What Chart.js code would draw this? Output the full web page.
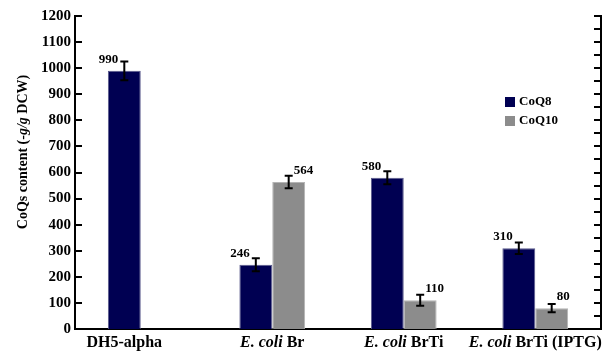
<!DOCTYPE html>
<html>
<head>
<meta charset="utf-8">
<script src="https://cdn.jsdelivr.net/npm/chart.js@4/dist/chart.umd.min.js"></script>
<style>
  html, body { margin: 0; padding: 0; background: #fff; }
  #wrap { width: 608px; height: 354px; }
</style>
</head>
<body>
<div id="wrap"><canvas id="c" width="608" height="354"></canvas></div>
<script>
// Strains and measured CoQ content (µg/g DCW)
const categories = ['DH5-alpha', 'E. coli Br', 'E. coli BrTi', 'E. coli BrTi (IPTG)'];
const seriesNames = ['CoQ8', 'CoQ10'];
const coq8 = [990, 246, 580, 310];
const coq10 = [null, 564, 110, 80];
const coq8Err = [36, 25, 25, 22];
const coq10Err = [null, 24, 21, 16];
const yAxisMin = 0;
const yAxisMax = 1200;
const yTickStep = 50;
const yLabelStep = 100;

const SERIF = '"Liberation Serif", "Times New Roman", serif';
const NAVY = '#000052';
const GREY = '#8c8c8c';
const ITALIC_PREFIX = 'E. coli';

function drawSegments(ctx, segments, x, y, align) {
  // segments: [text, font] pairs drawn one after another
  let total = 0;
  segments.forEach(([t, f]) => { ctx.font = f; total += ctx.measureText(t).width; });
  let cx = align === 'center' ? x - total / 2 : x;
  ctx.textAlign = 'left';
  segments.forEach(([t, f]) => {
    ctx.font = f;
    ctx.fillText(t, cx, y);
    cx += ctx.measureText(t).width;
  });
}

const decorations = {
  id: 'decorations',
  afterDatasetsDraw(chart) {
    const ctx = chart.ctx;
    const yScale = chart.scales.y;
    const errs = [coq8Err, coq10Err];
    ctx.save();
    chart.data.datasets.forEach((ds, di) => {
      const meta = chart.getDatasetMeta(di);
      meta.data.forEach((bar, i) => {
        const v = ds.data[i];
        if (v === null || v === undefined) return;
        const e = errs[di][i];
        const yHi = yScale.getPixelForValue(v + e);
        const yLo = yScale.getPixelForValue(v - e);
        // error bar
        ctx.strokeStyle = '#000';
        ctx.lineWidth = 2;
        ctx.beginPath();
        ctx.moveTo(bar.x, yHi); ctx.lineTo(bar.x, yLo);
        ctx.moveTo(bar.x - 4, yHi); ctx.lineTo(bar.x + 4, yHi);
        ctx.moveTo(bar.x - 4, yLo); ctx.lineTo(bar.x + 4, yLo);
        ctx.stroke();
        // value label
        ctx.fillStyle = '#000';
        ctx.font = 'bold 13px ' + SERIF;
        ctx.textBaseline = 'middle';
        if (di === 0) {
          ctx.textAlign = 'right';
          ctx.fillText(String(v), bar.x - 6, bar.y - 11.5);
        } else {
          ctx.textAlign = 'left';
          ctx.fillText(String(v), bar.x + 5, bar.y - 11.5);
        }
      });
    });
    ctx.restore();
  },
  afterDraw(chart) {
    const ctx = chart.ctx;
    const area = chart.chartArea;
    ctx.save();

    // inward tick marks on both vertical axes
    ctx.strokeStyle = '#000';
    ctx.lineWidth = 2;
    ['y', 'y2'].forEach(id => {
      const s = chart.scales[id];
      s.ticks.forEach((t, i) => {
        const py = Math.round(s.getPixelForTick(i));
        ctx.beginPath();
        if (id === 'y') { ctx.moveTo(area.left, py); ctx.lineTo(area.left + 7, py); }
        else { ctx.moveTo(area.right, py); ctx.lineTo(area.right - 7, py); }
        ctx.stroke();
      });
    });

    // category labels, centred under the bars present in each group
    ctx.fillStyle = '#000';
    ctx.textBaseline = 'alphabetic';
    categories.forEach((name, i) => {
      const xs = [];
      chart.data.datasets.forEach((ds, di) => {
        if (ds.data[i] !== null && ds.data[i] !== undefined) {
          xs.push(chart.getDatasetMeta(di).data[i].x);
        }
      });
      const px = xs.reduce((a, b) => a + b, 0) / xs.length;
      const bold = 'bold 16px ' + SERIF;
      const ital = 'italic bold 16px ' + SERIF;
      let segs;
      if (name.startsWith(ITALIC_PREFIX)) {
        segs = [[ITALIC_PREFIX, ital], [name.slice(ITALIC_PREFIX.length), bold]];
      } else {
        segs = [[name, bold]];
      }
      drawSegments(ctx, segs, px, 347, 'center');
    });

    // y axis title
    ctx.save();
    ctx.translate(23, 152);
    ctx.rotate(-Math.PI / 2);
    ctx.textBaseline = 'middle';
    drawSegments(ctx, [
      ['CoQs content (-', 'bold 14px ' + SERIF],
      ['g/g', 'italic bold 14px ' + SERIF],
      [' DCW)', 'bold 14px ' + SERIF]
    ], 0, 0, 'center');
    ctx.restore();

    // legend
    chart.data.datasets.forEach((ds, di) => {
      const top = 97 + di * 19;
      ctx.fillStyle = ds.backgroundColor;
      ctx.fillRect(505, top, 10, 10);
      ctx.fillStyle = '#000';
      ctx.font = 'bold 13px ' + SERIF;
      ctx.textAlign = 'left';
      ctx.textBaseline = 'middle';
      ctx.fillText(ds.label, 519, top + 5);
    });

    ctx.restore();
  }
};

new Chart(document.getElementById('c'), {
  type: 'bar',
  data: {
    labels: categories,
    datasets: [
      { label: seriesNames[0], data: coq8, backgroundColor: NAVY, borderColor: '#5a5a8c', borderWidth: 1 },
      { label: seriesNames[1], data: coq10, backgroundColor: GREY, borderColor: '#b4b4b4', borderWidth: 1 }
    ]
  },
  options: {
    responsive: false,
    devicePixelRatio: 1,
    animation: false,
    categoryPercentage: 0.5,
    barPercentage: 1.0,
    layout: { padding: { top: 16, right: 0, left: 0, bottom: 0 } },
    plugins: { legend: { display: false }, tooltip: { enabled: false } },
    scales: {
      x: {
        type: 'category',
        offset: true,
        grid: { display: false, drawTicks: false },
        border: { display: true, color: '#000', width: 2 },
        ticks: { display: false },
        afterFit(s) { s.height = 25; }
      },
      y: {
        position: 'left',
        min: yAxisMin,
        max: yAxisMax,
        grid: { display: false, drawTicks: false },
        border: { display: true, color: '#000', width: 2 },
        ticks: {
          stepSize: yTickStep,
          padding: 4,
          color: '#000',
          font: { family: SERIF, size: 15, weight: 'bold' },
          callback: v => (v % yLabelStep === 0 ? String(v) : '')
        },
        afterFit(s) { s.width = 75; }
      },
      y2: {
        position: 'right',
        min: yAxisMin,
        max: yAxisMax,
        grid: { display: false, drawTicks: false },
        border: { display: true, color: '#000', width: 2 },
        ticks: { display: false, stepSize: yTickStep },
        afterFit(s) { s.width = 7; }
      }
    }
  },
  plugins: [decorations]
});
</script>
</body>
</html>
